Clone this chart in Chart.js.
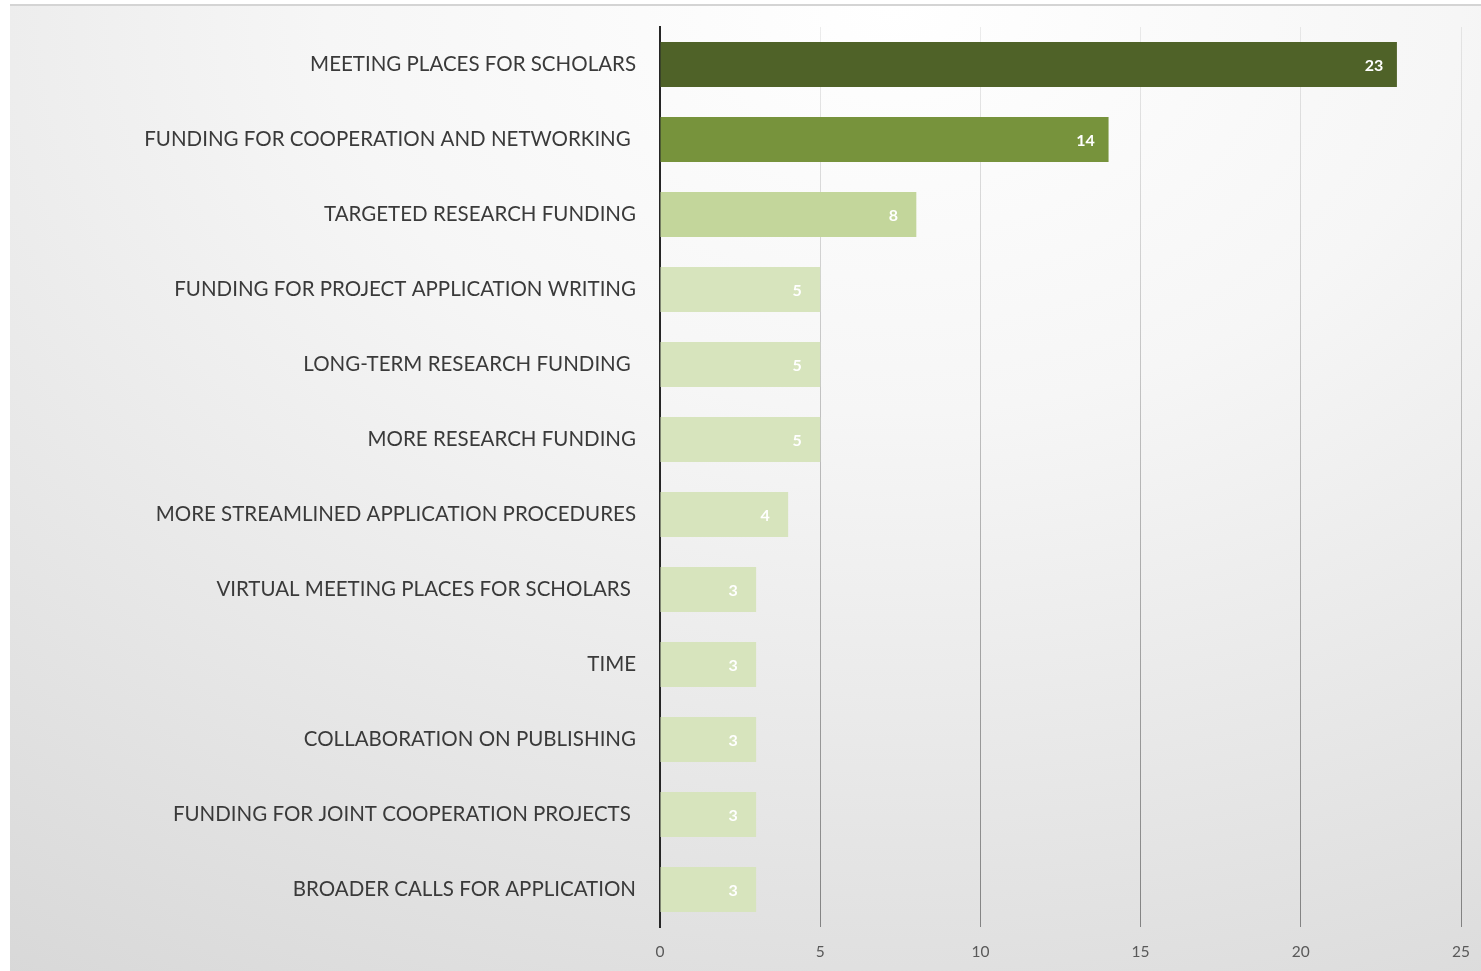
<!DOCTYPE html>
<html>
<head>
<meta charset="utf-8">
<script src="https://cdn.jsdelivr.net/npm/chart.js@4/dist/chart.umd.min.js"></script>
<style>
  html, body { margin: 0; padding: 0; background: #ffffff; }
  #bg {
    position: absolute; left: 10px; top: 4px; width: 1471px; height: 967px;
    border-top: 2px solid #d4d4d4;
    background: radial-gradient(ellipse 110% 120% at 60% 0%, #ffffff 0%, #f6f6f6 35%, #e6e6e6 70%, #d8d8d8 100%);
  }
  #wrap { position: absolute; left: 0; top: 0; width: 1481px; height: 971px; }
</style>
</head>
<body>
<div id="bg"></div>
<div id="wrap"><canvas id="c" width="1481" height="971"></canvas></div>
<script>
const categories = [
  "MEETING PLACES FOR SCHOLARS",
  "FUNDING FOR COOPERATION AND NETWORKING ",
  "TARGETED RESEARCH FUNDING",
  "FUNDING FOR PROJECT APPLICATION WRITING",
  "LONG-TERM RESEARCH FUNDING ",
  "MORE RESEARCH FUNDING",
  "MORE STREAMLINED APPLICATION PROCEDURES",
  "VIRTUAL MEETING PLACES FOR SCHOLARS ",
  "TIME",
  "COLLABORATION ON PUBLISHING",
  "FUNDING FOR JOINT COOPERATION PROJECTS ",
  "BROADER CALLS FOR APPLICATION"
];
const values = [23, 14, 8, 5, 5, 5, 4, 3, 3, 3, 3, 3];
const barColors = ["#4f6228", "#77933c", "#c3d69b", "#d7e4bd", "#d7e4bd", "#d7e4bd", "#d7e4bd", "#d7e4bd", "#d7e4bd", "#d7e4bd", "#d7e4bd", "#d7e4bd"];
const xTicks = [0, 5, 10, 15, 20, 25];

const valueLabels = {
  id: 'valueLabels',
  afterDatasetsDraw(chart) {
    const ctx = chart.ctx;
    const meta = chart.getDatasetMeta(0);
    ctx.save();
    ctx.font = 'bold 16px Lato';
    ctx.fillStyle = '#ffffff';
    ctx.textAlign = 'center';
    ctx.textBaseline = 'middle';
    meta.data.forEach((bar, i) => {
      ctx.fillText(String(values[i]), bar.x - 23, bar.y + 1);
    });
    ctx.restore();
  }
};

new Chart(document.getElementById('c'), {
  type: 'bar',
  data: {
    labels: categories,
    datasets: [{
      data: values,
      backgroundColor: barColors,
      borderWidth: 0,
      barPercentage: 0.6,
      categoryPercentage: 1.0
    }]
  },
  options: {
    indexAxis: 'y',
    responsive: false,
    animation: false,
    layout: { padding: { top: 27, right: 20, left: 0, bottom: 0 } },
    plugins: { legend: { display: false }, tooltip: { enabled: false } },
    scales: {
      x: {
        min: 0, max: 25,
        afterBuildTicks(scale) { scale.ticks = xTicks.map(v => ({ value: v })); },
        afterFit(scale) { scale.height = 44; scale.paddingLeft = 0; scale.paddingRight = 0; },
        grid: {
          drawTicks: false,
          lineWidth: 1,
          color(c) {
            const chart = c.chart;
            const a = chart.chartArea;
            if (!a) return 'rgba(0,0,0,0.2)';
            const g = chart.ctx.createLinearGradient(0, a.top, 0, a.bottom);
            g.addColorStop(0, 'rgba(0,0,0,0.07)');
            g.addColorStop(1, 'rgba(0,0,0,0.42)');
            return g;
          }
        },
        border: { display: false },
        ticks: { color: '#595959', font: { family: 'Lato', size: 15.5 }, padding: 16 }
      },
      y: {
        afterFit(scale) { scale.width = 660; scale.paddingTop = 0; scale.paddingBottom = 0; },
        grid: { display: false, drawTicks: false },
        border: { display: true, color: '#262626', width: 2 },
        ticks: { color: '#3a3a3a', font: { family: 'Lato', size: 20.5 }, padding: 24 }
      }
    }
  },
  plugins: [valueLabels]
});
</script>
</body>
</html>
